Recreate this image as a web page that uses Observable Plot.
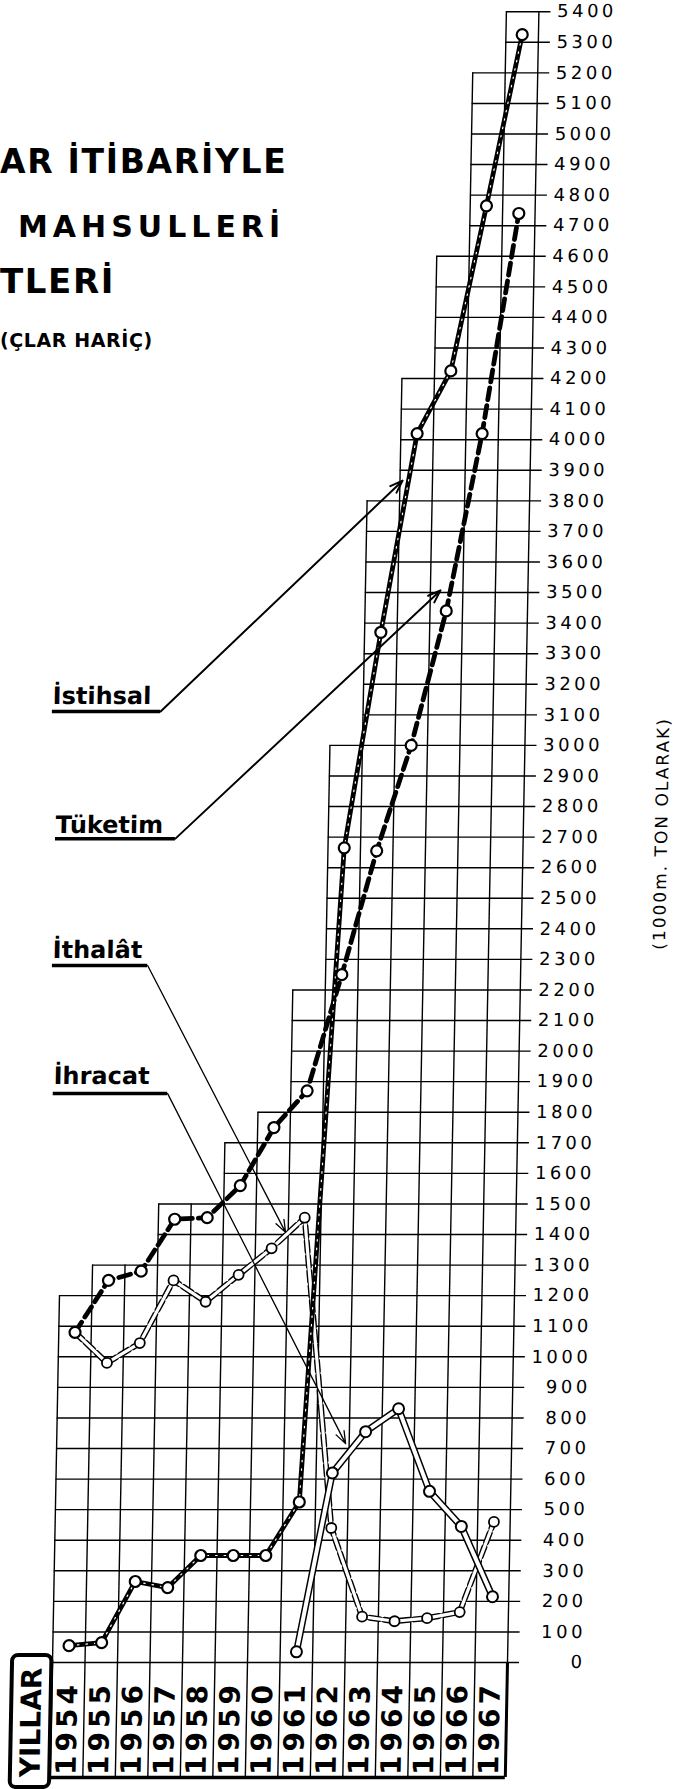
<!DOCTYPE html>
<html>
<head>
<meta charset="utf-8">
<script src="https://cdn.jsdelivr.net/npm/d3@7"></script>
<script src="https://cdn.jsdelivr.net/npm/@observablehq/plot@0.6"></script>
<style>
html, body { margin: 0; padding: 0; background: #fff; }
#wrap { position: relative; width: 682px; height: 1789px; overflow: hidden; background: #fff; }
#chart svg { position: absolute; left: 0; top: 0; transform: skewX(-1.09deg); transform-origin: 0 1662px; }
.t { position: absolute; left: 0; white-space: nowrap; font-family: "DejaVu Sans", sans-serif; font-weight: bold; line-height: 1; color: #000; }
g[aria-description="ticks"] { letter-spacing: 3.5px; }
g[aria-description="axistitle"] { letter-spacing: 2px; }
g[aria-description="years"] { letter-spacing: 4px; }
</style>
</head>
<body>
<div id="wrap">
  <div id="chart"></div>
  <div class="t" style="top:145px;left:0;font-size:33px;letter-spacing:1.7px">AR İTİBARİYLE</div>
  <div class="t" style="top:212px;left:18px;font-size:30px;letter-spacing:5px">MAHSULLERİ</div>
  <div class="t" style="top:264px;left:0;font-size:34px;letter-spacing:1.6px">TLERİ</div>
  <div class="t" style="top:331px;left:0;font-size:19px;letter-spacing:0.6px">(ÇLAR HARİÇ)</div>
</div>
<script>
// ---- data (1000 m. ton) ----
const years    = [1954, 1955, 1956, 1957, 1958, 1959, 1960, 1961, 1962, 1963, 1964, 1965, 1966, 1967];
const istihsal = [55, 65, 265, 245, 350, 350, 350, 525, 2665, 3370, 4020, 4225, 4765, 5325];
const tuketim  = [1080, 1250, 1280, 1450, 1455, 1560, 1750, 1870, 2250, 2655, 3000, 3440, 4020, 4740];
const ithalat  = [1080, 980, 1045, 1250, 1180, 1268, 1355, 1455, 440, 150, 135, 145, 165, 460];
const ihracat  = [null, null, null, null, null, null, null, 35, 620, 755, 830, 560, 445, 215];
// top of the drawn grid in each year column (staircase)
const gridTop  = [1200, 1300, 1300, 1500, 1500, 1700, 1800, 2200, 3000, 3800, 4200, 4600, 5200, 5400];
const tickValues = d3.range(0, 5401, 100);

// ---- labels / annotations ----
const yAxisTitle = "(1000m. TON OLARAK)";
const yearsTitle = "YILLAR";
const legendNames = ["İstihsal", "Tüketim", "İthalât", "İhracat"];
const legendTextX = [-0.56, -0.39, -0.41, -0.31];
const legendTextY = [3162, 2740, 2331, 1919];
const legendLineY = [3111, 2695, 2280, 1861];
const legendLineEnd = [2.77, 3.30, 2.52, 3.21];
const arrowTipX = [10.08, 11.31, 6.92, 8.89];
const arrowTipY = [3866, 3507, 1407, 716];

// ---- layout ----
const W = 682, H = 1789;
const colW = 32.5, firstCol = 52, zeroY = 1662, pxPerUnit = 0.3057;
const yearRowBottom = -376, yearTextY = -214;
const tickEnd = 14.37, tickLabelX = 16.4;

const rows = years.map((yr, i) => ({
  year: String(yr), col: i + 0.5,
  ist: istihsal[i], tuk: tuketim[i], ith: ithalat[i], ihr: ihracat[i]
}));
const hLines = tickValues.map(v => ({ v, x1: v === 0 ? 0 : d3.bisectLeft(gridTop, v) }));
const bounds = d3.range(0, years.length + 1).map(b => ({ b, top: gridTop[Math.min(b, years.length - 1)] }));
const exp = rows.filter(d => d.ihr != null);
const font = "DejaVu Sans";

const chart = Plot.plot({
  width: W, height: H, margin: 0,
  x: { type: "linear", domain: [-firstCol / colW, (W - firstCol) / colW], range: [0, W], axis: null },
  y: { type: "linear", domain: [-(H - zeroY) / pxPerUnit, zeroY / pxPerUnit], range: [H, 0], axis: null },
  style: { fontFamily: font, color: "#000", background: "#fff" },
  marks: [
    // grid (staircase)
    Plot.ruleY(hLines, { y: "v", x1: "x1", x2: tickEnd, stroke: "#000", strokeWidth: 1.4 }),
    Plot.ruleX(bounds, { x: "b", y1: yearRowBottom, y2: "top", stroke: "#000", strokeWidth: 1.4 }),
    Plot.ruleY([yearRowBottom], { x1: 0, x2: years.length, stroke: "#000", strokeWidth: 3.5 }),
    Plot.ruleX([years.length], { y1: yearRowBottom, y2: 0, stroke: "#000", strokeWidth: 3 }),
    // tick labels
    Plot.text(tickValues, { x: tickLabelX, y: d => d, text: d => String(d), textAnchor: "end",
      fontSize: 18, fill: "#000", ariaDescription: "ticks" }),
    Plot.text([yAxisTitle], { x: 18.26, y: 2712, text: d => d, rotate: -90, fontSize: 17,
      fill: "#000", ariaDescription: "axistitle" }),
    // year row
    Plot.rect([0], { x1: -1.23, x2: -0.02, y1: -409, y2: 23, rx: 6, fill: "#fff", stroke: "#000", strokeWidth: 4 }),
    Plot.text([yearsTitle], { x: -0.61, y: -196, text: d => d, rotate: -90, fontSize: 28,
      fontWeight: "bold", fill: "#000" }),
    Plot.text(rows, { x: "col", y: yearTextY, text: "year", rotate: -90, fontSize: 28,
      fontWeight: "bold", fill: "#000", ariaDescription: "years" }),
    // İthalât (imports) – double dashed
    Plot.line(rows, { x: "col", y: "ith", stroke: "#000", strokeWidth: 6, strokeDasharray: "10,5" }),
    Plot.line(rows, { x: "col", y: "ith", stroke: "#fff", strokeWidth: 3.2 }),
    // İhracat (exports) – double solid
    Plot.line(exp, { x: "col", y: "ihr", stroke: "#000", strokeWidth: 7 }),
    Plot.line(exp, { x: "col", y: "ihr", stroke: "#fff", strokeWidth: 4 }),
    // Tüketim (consumption) – thick dashed
    Plot.line(rows, { x: "col", y: "tuk", stroke: "#000", strokeWidth: 4.8, strokeDasharray: "12,6" }),
    // İstihsal (production) – thick solid
    Plot.line(rows, { x: "col", y: "ist", stroke: "#000", strokeWidth: 4.8 }),
    Plot.line(rows, { x: "col", y: "ist", stroke: "#fff", strokeWidth: 1.2, strokeDasharray: "1.5,7" }),
    // markers
    Plot.dot(rows, { x: "col", y: "ith", r: 5, fill: "#fff", stroke: "#000", strokeWidth: 1.8 }),
    Plot.dot(exp, { x: "col", y: "ihr", r: 5.5, fill: "#fff", stroke: "#000", strokeWidth: 2 }),
    Plot.dot(rows, { x: "col", y: "tuk", r: 5.5, fill: "#fff", stroke: "#000", strokeWidth: 2.2 }),
    Plot.dot(rows, { x: "col", y: "ist", r: 5.5, fill: "#fff", stroke: "#000", strokeWidth: 2.2 }),
    // legend labels with leaders
    Plot.text(legendNames, { x: legendTextX, y: legendTextY, text: d => d, textAnchor: "start",
      fontSize: 24, fontWeight: "bold", fill: "#000" }),
    Plot.ruleY(legendNames, { y: legendLineY, x1: legendTextX, x2: legendLineEnd, stroke: "#000", strokeWidth: 3.5 }),
    Plot.arrow(legendNames.slice(0, 2), { x1: legendLineEnd.slice(0, 2), y1: legendLineY.slice(0, 2),
      x2: arrowTipX.slice(0, 2), y2: arrowTipY.slice(0, 2), stroke: "#000", strokeWidth: 2, headLength: 10, headAngle: 40 }),
    Plot.arrow(legendNames.slice(2), { x1: legendLineEnd.slice(2), y1: legendLineY.slice(2),
      x2: arrowTipX.slice(2), y2: arrowTipY.slice(2), stroke: "#000", strokeWidth: 1.3, headLength: 15, headAngle: 40 })
  ]
});
document.getElementById("chart").appendChild(chart);
</script>
</body>
</html>
